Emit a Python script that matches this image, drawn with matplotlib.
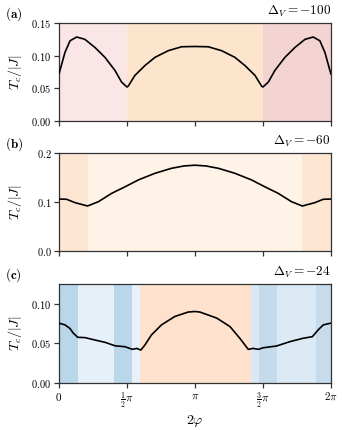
import numpy as np
import matplotlib
matplotlib.use('Agg')
from matplotlib import pyplot as plt

plt.rcParams['mathtext.fontset'] = 'cm'
plt.rcParams['font.family'] = 'serif'
plt.rcParams['font.serif'] = ['DejaVu Serif']

# x positions given in units of pi (2*phi / pi)
xa = [0, 0.02, 0.044, 0.081, 0.13, 0.19, 0.264, 0.338, 0.412, 0.46, 0.492, 0.5,
      0.51, 0.558, 0.632, 0.706, 0.804, 0.902, 1.0, 1.098, 1.196, 1.294, 1.368,
      1.442, 1.49, 1.5, 1.508, 1.54, 1.588, 1.662, 1.736, 1.81, 1.87, 1.919,
      1.956, 1.98, 2.0]
ya = [0.072, 0.087, 0.105, 0.1227, 0.1285, 0.125, 0.1126, 0.0974, 0.0773, 0.0596,
      0.0535, 0.052, 0.0535, 0.0697, 0.0848, 0.0974, 0.1076, 0.1136, 0.114, 0.1136,
      0.1076, 0.0974, 0.0848, 0.0697, 0.0535, 0.052, 0.0535, 0.0596, 0.0773,
      0.0974, 0.1126, 0.125, 0.1285, 0.1227, 0.105, 0.087, 0.072]

xb = [0, 0.056, 0.118, 0.21, 0.29, 0.388, 0.486, 0.584, 0.706, 0.828, 0.92, 1.0,
      1.08, 1.172, 1.294, 1.416, 1.514, 1.612, 1.71, 1.79, 1.882, 1.944, 2.0]
yb = [0.106, 0.1055, 0.0986, 0.0918, 0.1006, 0.1177, 0.131, 0.145, 0.1585, 0.1687,
      0.1735, 0.175, 0.1735, 0.1687, 0.1585, 0.145, 0.131, 0.1177, 0.1006, 0.0918,
      0.0986, 0.1055, 0.106]

xc = [0, 0.044, 0.08, 0.106, 0.138, 0.192, 0.264, 0.338, 0.412, 0.486, 0.54, 0.572,
      0.602, 0.632, 0.68, 0.754, 0.852, 0.95, 1.0, 1.036, 1.16, 1.258, 1.33, 1.392,
      1.428, 1.466, 1.502, 1.6, 1.698, 1.796, 1.864, 1.906, 1.944, 2.0]
yc = [0.0756, 0.0734, 0.069, 0.0628, 0.0577, 0.0573, 0.0543, 0.0514, 0.047, 0.0458,
      0.0425, 0.0437, 0.0416, 0.048, 0.0607, 0.0734, 0.084, 0.0896, 0.0903, 0.0896,
      0.082, 0.0712, 0.0565, 0.0425, 0.0437, 0.0425, 0.0445, 0.0467, 0.0522, 0.0565,
      0.0585, 0.067, 0.0734, 0.0756]

# background phase regions (start, end in units of pi, colour)
bands_a = [(0, 0.5, '#fae6e6'), (0.5, 1.5, '#fde4cc'), (1.5, 2.0, '#f4d3d3')]
bands_b = [(0, 0.21, '#fde6d2'), (0.21, 1.79, '#fef3e6'), (1.79, 2.0, '#fde6d2')]
bands_c = [(0, 0.138, '#b9d6ea'), (0.138, 0.406, '#e6f0f9'), (0.406, 0.534, '#b9d6ea'),
           (0.534, 0.596, '#e8f1fa'), (0.596, 1.412, '#fee2cd'), (1.412, 1.47, '#dbe8f4'),
           (1.47, 1.6, '#c4dbec'), (1.6, 1.89, '#dceaf5'), (1.89, 2.0, '#c6dcec')]

panels = [
    ('a', r'$\Delta_V = -100$', xa, ya, bands_a, 0.15,
     [0, 0.05, 0.10, 0.15], ['$0.00$', '$0.05$', '$0.10$', '$0.15$']),
    ('b', r'$\Delta_V = -60$', xb, yb, bands_b, 0.2,
     [0, 0.1, 0.2], ['$0.0$', '$0.1$', '$0.2$']),
    ('c', r'$\Delta_V = -24$', xc, yc, bands_c, 0.125,
     [0, 0.05, 0.10], ['$0.00$', '$0.05$', '$0.10$']),
]

xticks = [0, 0.5, 1.0, 1.5, 2.0]
xticklabels = ['$0$', r'$\frac{1}{2}\pi$', r'$\pi$', r'$\frac{3}{2}\pi$', r'$2\pi$']

fig = plt.figure(figsize=(3.42, 4.30), dpi=100)
rects = [(0.1725, 0.7186, 0.795, 0.228),
         (0.1725, 0.4163, 0.795, 0.228),
         (0.1725, 0.1093, 0.795, 0.2302)]

for i, (lab, title, xs, ys, bands, ytop, yt, ytl) in enumerate(panels):
    ax = fig.add_axes(rects[i])
    for x0, x1, c in bands:
        ax.axvspan(x0 * np.pi, x1 * np.pi, color=c, lw=0, zorder=0)
    ax.plot(np.array(xs) * np.pi, ys, color='black', lw=1.2, zorder=3)
    ax.set_xlim(0, 2 * np.pi)
    ax.set_ylim(0, ytop)
    ax.set_yticks(yt)
    ax.set_yticklabels(ytl, fontsize=7.5)
    ax.set_xticks(np.array(xticks) * np.pi)
    if i == 2:
        ax.set_xticklabels(xticklabels, fontsize=8)
        ax.set_xlabel(r'$2\varphi$', fontsize=10, labelpad=2)
    else:
        ax.set_xticklabels([])
    ax.set_ylabel(r'$T_c/|J|$', fontsize=10)
    ax.yaxis.set_label_coords(-0.13, 0.5)
    ax.tick_params(direction='out', length=3.5, width=0.9, color='#333333', pad=2)
    for s in ax.spines.values():
        s.set_color('#333333')
        s.set_linewidth(0.9)
    ax.text(1.0, 1.04, title, transform=ax.transAxes, ha='right', va='bottom', fontsize=9.5)
    ax.text(-0.2, 1.0, r'$\mathbf{(%s)}$' % lab, transform=ax.transAxes,
            ha='left', va='bottom', fontsize=9.5)

fig.savefig('out.png', dpi=100)
